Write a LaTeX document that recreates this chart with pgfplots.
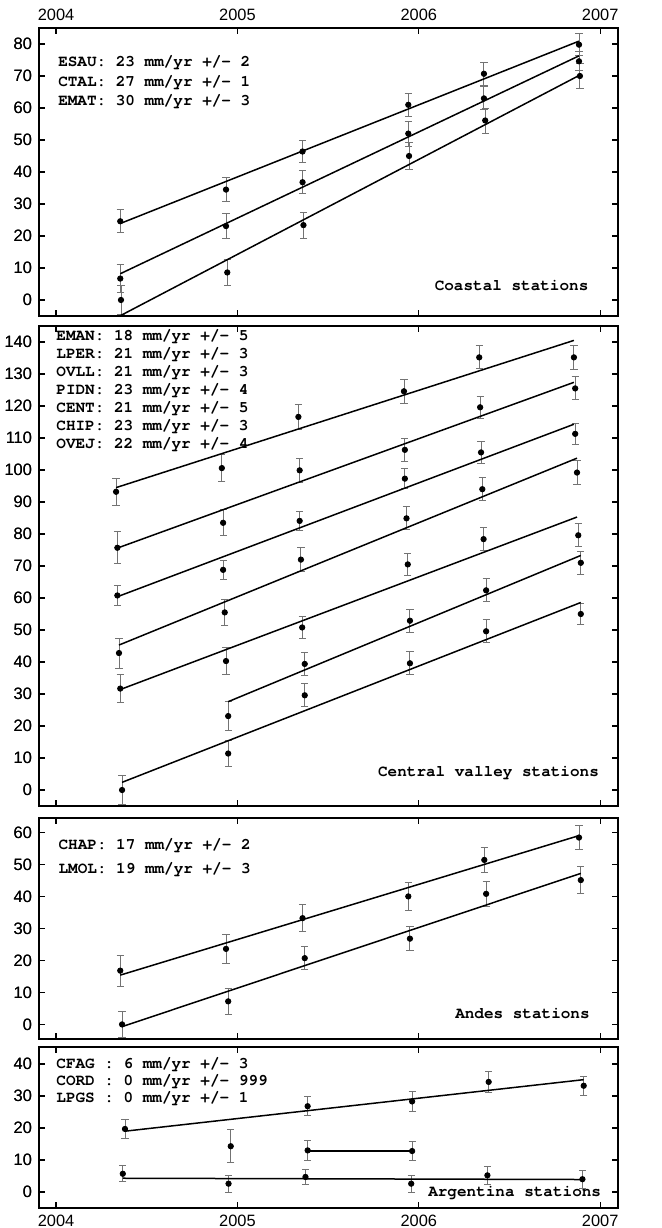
\documentclass[border=0pt]{standalone}
\usepackage{fontspec}
\setmainfont{Liberation Sans}
\setmonofont{TeX Gyre Cursor}
\usepackage{pgfplots}
\pgfplotsset{compat=1.18}

\newcommand{\lab}{\fontsize{8}{9}\selectfont\ttfamily\bfseries}

\pgfplotsset{
  panel/.style={scale only axis, width=289.5pt, xmin=2003.906, xmax=2007.098,
    xtick={2004,2005,2006,2007}, xticklabels={2004,2005,2006,2007},
    xtick pos=both, ytick pos=both,
    tick align=inside, major tick length=3pt,
    axis line style={line width=0.9pt}, tick style={black, line width=0.6pt},
    ticklabel style={font=\fontsize{8.2}{9}\selectfont},
    /pgf/number format/assume math mode=true,
    anchor=north west},
  rlab/.style={panel, hide x axis, axis y line*=right, yticklabel pos=right,
    ytick style={draw=none}},
  pts/.style={only marks, mark=*, mark size=1.35pt, black,
    error bars/.cd, y dir=both, y explicit,
    error bar style={black!55, line width=0.45pt},
    error mark options={rotate=90, black!55, mark size=1.8pt, line width=0.45pt}},
  fit/.style={black, line width=0.75pt, no marks},
}

\begin{document}
\begin{tikzpicture}
% ---------- coastal
\begin{axis}[panel, at={(0pt,0pt)}, height=144pt, ymin=-5, ymax=85,
  ytick={0,10,...,80}, xticklabel pos=upper]
\addplot[pts] coordinates {(2004.354,24.6) +- (0,3.6) (2004.937,34.5) +- (0,3.75)
  (2005.359,46.4) +- (0,3.5) (2005.942,61.0) +- (0,3.7) (2006.359,70.7) +- (0,3.5)
  (2006.883,79.8) +- (0,3.5)};
\addplot[pts] coordinates {(2004.354,6.7) +- (0,4.3) (2004.937,23.1) +- (0,3.9)
  (2005.359,36.8) +- (0,3.6) (2005.942,52.0) +- (0,3.9) (2006.359,63.0) +- (0,3.6)
  (2006.883,74.6) +- (0,3.0)};
\addplot[pts] coordinates {(2004.358,0.0) +- (0,4.5) (2004.944,8.6) +- (0,4.0)
  (2005.364,23.4) +- (0,4.1) (2005.946,45.0) +- (0,4.2) (2006.366,56.1) +- (0,3.9)
  (2006.888,70.0) +- (0,3.8)};
\addplot[fit] coordinates {(2004.354,23.9) (2006.883,80.9)};
\addplot[fit] coordinates {(2004.354,8.2) (2006.883,76.3)};
\addplot[fit] coordinates {(2004.358,-4.8) (2006.888,70.3)};
\node[anchor=west, inner sep=0] at (axis cs:2004.01,74.2) {\lab ESAU: 23 mm/yr +/- 2};
\node[anchor=west, inner sep=0] at (axis cs:2004.01,68.1) {\lab CTAL: 27 mm/yr +/- 1};
\node[anchor=west, inner sep=0] at (axis cs:2004.01,61.9) {\lab EMAT: 30 mm/yr +/- 3};
\node[anchor=east, inner sep=0] at (axis cs:2006.937,4.6) {\lab Coastal stations};
\end{axis}
\begin{axis}[rlab, at={(0pt,0pt)}, height=144pt, ymin=-5, ymax=85, ytick={0,10,...,80}]
\end{axis}

% ---------- central valley
\begin{axis}[panel, at={(0pt,-149pt)}, height=240pt, ymin=-5, ymax=145,
  ytick={0,10,...,140}, xticklabels={}]
\addplot[pts] coordinates {(2004.331,93.2) +- (0,4.2) (2004.914,100.6) +- (0,4.2)
  (2005.336,116.6) +- (0,3.8) (2005.918,124.6) +- (0,3.7) (2006.333,135.2) +- (0,3.6)
  (2006.855,135.2) +- (0,3.8)};
\addplot[pts] coordinates {(2004.338,75.7) +- (0,5.0) (2004.921,83.5) +- (0,4.1)
  (2005.343,99.9) +- (0,3.8) (2005.923,106.3) +- (0,3.6) (2006.338,119.6) +- (0,3.5)
  (2006.862,125.5) +- (0,3.6)};
\addplot[pts] coordinates {(2004.338,60.8) +- (0,3.0) (2004.921,68.8) +- (0,3.0)
  (2005.343,84.1) +- (0,3.1) (2005.923,97.3) +- (0,3.2) (2006.343,105.5) +- (0,3.3)
  (2006.862,111.3) +- (0,3.2)};
\addplot[pts] coordinates {(2004.347,42.8) +- (0,4.7) (2004.930,55.5) +- (0,4.0)
  (2005.350,72.0) +- (0,3.7) (2005.932,84.9) +- (0,3.6) (2006.350,94.0) +- (0,3.6)
  (2006.872,99.2) +- (0,3.7)};
\addplot[pts] coordinates {(2004.354,31.7) +- (0,4.4) (2004.937,40.3) +- (0,4.1)
  (2005.357,50.8) +- (0,3.5) (2005.939,70.5) +- (0,3.4) (2006.357,78.4) +- (0,3.6)
  (2006.879,79.6) +- (0,3.6)};
\addplot[pts] coordinates {(2004.949,23.1) +- (0,4.5) (2005.371,39.4) +- (0,3.7)
  (2005.951,52.9) +- (0,3.6) (2006.371,62.4) +- (0,3.6) (2006.893,71.0) +- (0,3.5)};
\addplot[pts] coordinates {(2004.364,0.0) +- (0,4.6) (2004.949,11.4) +- (0,4.1)
  (2005.371,29.6) +- (0,3.6) (2005.951,39.6) +- (0,3.6) (2006.371,49.6) +- (0,3.6)
  (2006.893,55.0) +- (0,3.4)};
\addplot[fit] coordinates {(2004.331,94.5) (2006.855,140.5)};
\addplot[fit] coordinates {(2004.338,75.6) (2006.855,127.4)};
\addplot[fit] coordinates {(2004.338,60.4) (2006.855,114.3)};
\addplot[fit] coordinates {(2004.347,45.3) (2006.872,103.7)};
\addplot[fit] coordinates {(2004.354,31.4) (2006.872,85.3)};
\addplot[fit] coordinates {(2004.949,27.6) (2006.893,73.3)};
\addplot[fit] coordinates {(2004.364,2.4) (2006.893,58.6)};
\node[anchor=west, inner sep=0] at (axis cs:2004.0,141.8) {\lab EMAN: 18 mm/yr +/- 5};
\node[anchor=west, inner sep=0] at (axis cs:2004.0,136.1) {\lab LPER: 21 mm/yr +/- 3};
\node[anchor=west, inner sep=0] at (axis cs:2004.0,130.6) {\lab OVLL: 21 mm/yr +/- 3};
\node[anchor=west, inner sep=0] at (axis cs:2004.0,124.9) {\lab PIDN: 23 mm/yr +/- 4};
\node[anchor=west, inner sep=0] at (axis cs:2004.0,119.2) {\lab CENT: 21 mm/yr +/- 5};
\node[anchor=west, inner sep=0] at (axis cs:2004.0,113.6) {\lab CHIP: 23 mm/yr +/- 3};
\node[anchor=west, inner sep=0] at (axis cs:2004.0,107.9) {\lab OVEJ: 22 mm/yr +/- 4};
\node[anchor=east, inner sep=0] at (axis cs:2006.995,5.4) {\lab Central valley stations};
\end{axis}
\begin{axis}[rlab, at={(0pt,-149pt)}, height=240pt, ymin=-5, ymax=145, ytick={0,10,...,140}]
\end{axis}

% ---------- andes
\begin{axis}[panel, at={(0pt,-395pt)}, height=110.4pt, ymin=-4.5, ymax=64.5,
  ytick={0,10,...,60}, xticklabels={}]
\addplot[pts] coordinates {(2004.354,16.8) +- (0,4.8) (2004.937,23.6) +- (0,4.4)
  (2005.359,33.2) +- (0,4.2) (2005.942,40.0) +- (0,4.4) (2006.361,51.4) +- (0,3.9)
  (2006.883,58.4) +- (0,3.8)};
\addplot[pts] coordinates {(2004.364,0.0) +- (0,4.2) (2004.949,7.2) +- (0,4.0)
  (2005.371,20.7) +- (0,3.6) (2005.951,26.8) +- (0,3.8) (2006.371,40.8) +- (0,3.8)
  (2006.893,45.1) +- (0,4.3)};
\addplot[fit] coordinates {(2004.354,15.4) (2006.883,59.0)};
\addplot[fit] coordinates {(2004.364,-0.7) (2006.893,47.2)};
\node[anchor=west, inner sep=0] at (axis cs:2004.012,55.9) {\lab CHAP: 17 mm/yr +/- 2};
\node[anchor=west, inner sep=0] at (axis cs:2004.012,48.3) {\lab LMOL: 19 mm/yr +/- 3};
\node[anchor=east, inner sep=0] at (axis cs:2006.944,3.3) {\lab Andes stations};
\end{axis}
\begin{axis}[rlab, at={(0pt,-395pt)}, height=110.4pt, ymin=-4.5, ymax=64.5, ytick={0,10,...,60}]
\end{axis}

% ---------- argentina
\begin{axis}[panel, at={(0pt,-509.5pt)}, height=80.5pt, ymin=-5, ymax=45.3,
  ytick={0,10,...,40}]
\addplot[pts] coordinates {(2004.380,19.7) +- (0,2.9) (2004.963,14.3) +- (0,5.1)
  (2005.387,26.8) +- (0,3.0) (2005.963,28.3) +- (0,3.1) (2006.385,34.4) +- (0,3.2)
  (2006.909,33.2) +- (0,3.0)};
\addplot[pts] coordinates {(2005.387,13.0) +- (0,3.0) (2005.963,12.8) +- (0,2.9)};
\addplot[pts] coordinates {(2004.368,5.7) +- (0,2.5) (2004.951,2.6) +- (0,2.6)
  (2005.375,4.7) +- (0,2.4) (2005.958,2.6) +- (0,2.6) (2006.378,5.2) +- (0,2.9)
  (2006.902,4.0) +- (0,2.8)};
\addplot[fit] coordinates {(2004.380,19.0) (2006.909,35.1)};
\addplot[fit] coordinates {(2005.387,12.8) (2005.963,12.8)};
\addplot[fit] coordinates {(2004.368,4.3) (2006.902,3.9)};
\node[anchor=west, inner sep=0] at (axis cs:2004.0,39.8) {\lab CFAG : 6 mm/yr +/- 3};
\node[anchor=west, inner sep=0] at (axis cs:2004.0,34.6) {\lab CORD : 0 mm/yr +/- 999};
\node[anchor=west, inner sep=0] at (axis cs:2004.0,29.2) {\lab LPGS : 0 mm/yr +/- 1};
\node[anchor=east, inner sep=0] at (axis cs:2007.007,-0.3) {\lab Argentina stations};
\end{axis}
\begin{axis}[rlab, at={(0pt,-509.5pt)}, height=80.5pt, ymin=-5, ymax=45.3, ytick={0,10,...,40}]
\end{axis}

\pgfresetboundingbox
\path[use as bounding box] (-19.5pt,14pt) rectangle (311.5pt,-600pt);
\end{tikzpicture}
\end{document}
